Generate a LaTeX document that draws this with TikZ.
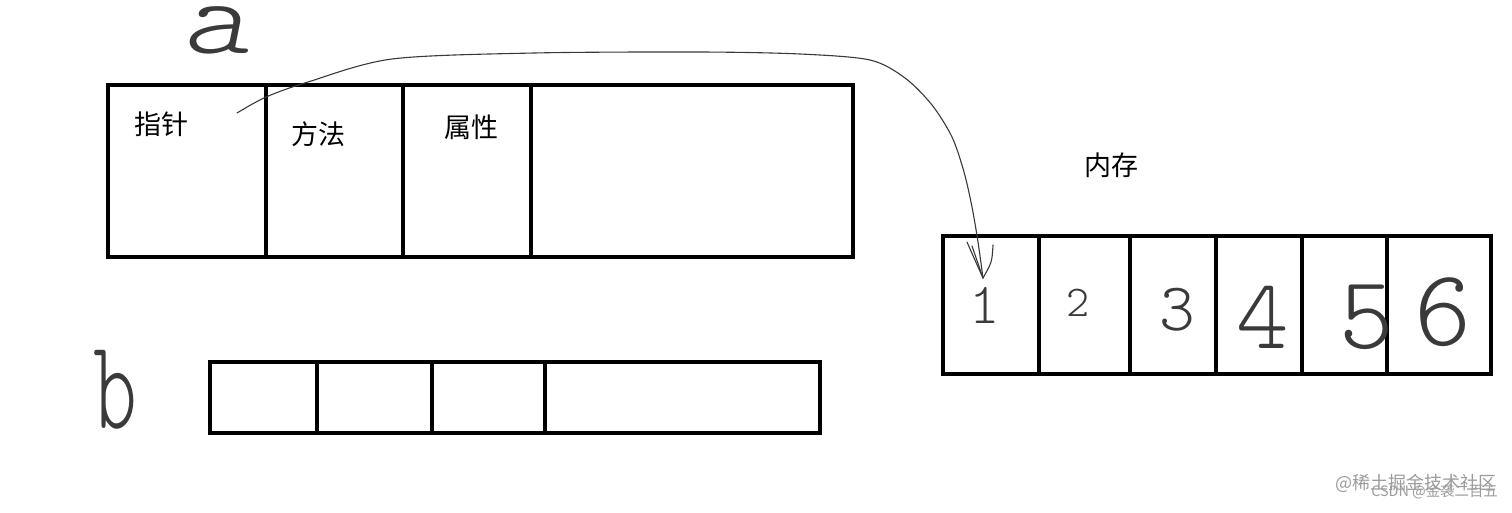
\documentclass[tikz,border=0pt]{standalone}
\usepackage{fontspec}
\newfontfamily\cjk{Noto Sans CJK SC}
\newfontfamily\hand{lmmonolt10-regular.otf}
\newfontfamily\handit{lmmonolt10-oblique.otf}
\definecolor{ink}{HTML}{000000}
\definecolor{pen}{HTML}{3A3A3A}
\definecolor{wm}{HTML}{9C9C9C}
\tikzset{
  cell/.style={draw=ink,line width=4pt,rectangle,inner sep=0pt,outer sep=0pt},
  lbl/.style={inner sep=0pt,font=\cjk\fontsize{27}{30}\selectfont,text=ink},
  handtxt/.style={inner sep=0pt,text=pen},
  link/.style={draw=pen,line width=1.1pt,line cap=round,line join=round},
  wmtxt/.style={inner sep=0pt,text=wm,anchor=east},
}
\newcommand\mkcell[5]{\node[cell,minimum width={#3-#2},minimum height={#5-#4}] (#1) at ({(#2+#3)/2},{(#4+#5)/2}) {};}
\begin{document}
\begin{tikzpicture}[x=1pt,y=-1pt]
\useasboundingbox (0,0) rectangle (1512,512);
\fill[white] (0,0) rectangle (1512,512);
% object a
\mkcell{a1}{108}{266}{85}{257}
\mkcell{a2}{266}{403}{85}{257}
\mkcell{a3}{403}{531}{85}{257}
\mkcell{a4}{531}{853}{85}{257}
\node[lbl] (tptr) at (161,124) {指针};
\node[lbl] (tmeth) at (318,134) {方法};
\node[lbl] (tattr) at (471,127) {属性};
\node[handtxt,font=\handit\fontsize{108}{110}\selectfont] (la) at (216,30) {\scalebox{1.2}[1]{a}};
% object b
\mkcell{b1}{210}{317}{362}{433}
\mkcell{b2}{317}{432}{362}{433}
\mkcell{b3}{432}{545}{362}{433}
\mkcell{b4}{545}{820}{362}{433}
\node[handtxt,font=\hand\fontsize{128}{130}\selectfont] (lb) at (115,390) {\scalebox{0.65}[1]{b}};
% memory
\node[lbl] (tmem) at (1111,165) {内存};
\mkcell{m1}{943}{1039}{236}{374}
\mkcell{m2}{1039}{1130}{236}{374}
\mkcell{m3}{1130}{1216}{236}{374}
\mkcell{m4}{1216}{1302}{236}{374}
\mkcell{m5}{1302}{1387}{236}{374}
\mkcell{m6}{1387}{1491}{236}{374}
\node[handtxt,font=\hand\fontsize{58}{60}\selectfont] (d1) at (985,305) {1};
\node[handtxt,font=\hand\fontsize{44}{46}\selectfont] (d2) at (1078,303) {2};
\node[handtxt,font=\hand\fontsize{68}{70}\selectfont] (d3) at (1177,310) {3};
\node[handtxt,font=\hand\fontsize{100}{102}\selectfont] (d4) at (1263,317) {4};
\node[handtxt,font=\hand\fontsize{104}{106}\selectfont] (d5) at (1367,317) {5};
\node[handtxt,font=\hand\fontsize{109}{111}\selectfont] (d6) at (1443,312) {6};
% pointer connector
\coordinate (ptrStart) at (237,113);
\coordinate (memTip) at (983,278);
\draw[link] plot[smooth,tension=0.5] coordinates {(ptrStart) (266,97) (308,82) (392,59) (534,53) (700,52) (800,54) (870,60) (905,78) (932,105) (952,137) (964,172) (972,207) (978,242) (memTip)};
\draw[link] (967,242) .. controls (974,258) .. (memTip);
\draw[link] (972,246) -- (memTip);
\draw[link] (993,245) .. controls (992,262) .. (memTip);
% watermark
\node[wmtxt,font=\cjk\fontsize{18}{20}\selectfont] (wm1) at (1497,483) {@稀土掘金技术社区};
\node[wmtxt,font=\cjk\fontsize{14.4}{16}\selectfont] (wm2) at (1498,492) {CSDN @金袭二百五};
\end{tikzpicture}
\end{document}
